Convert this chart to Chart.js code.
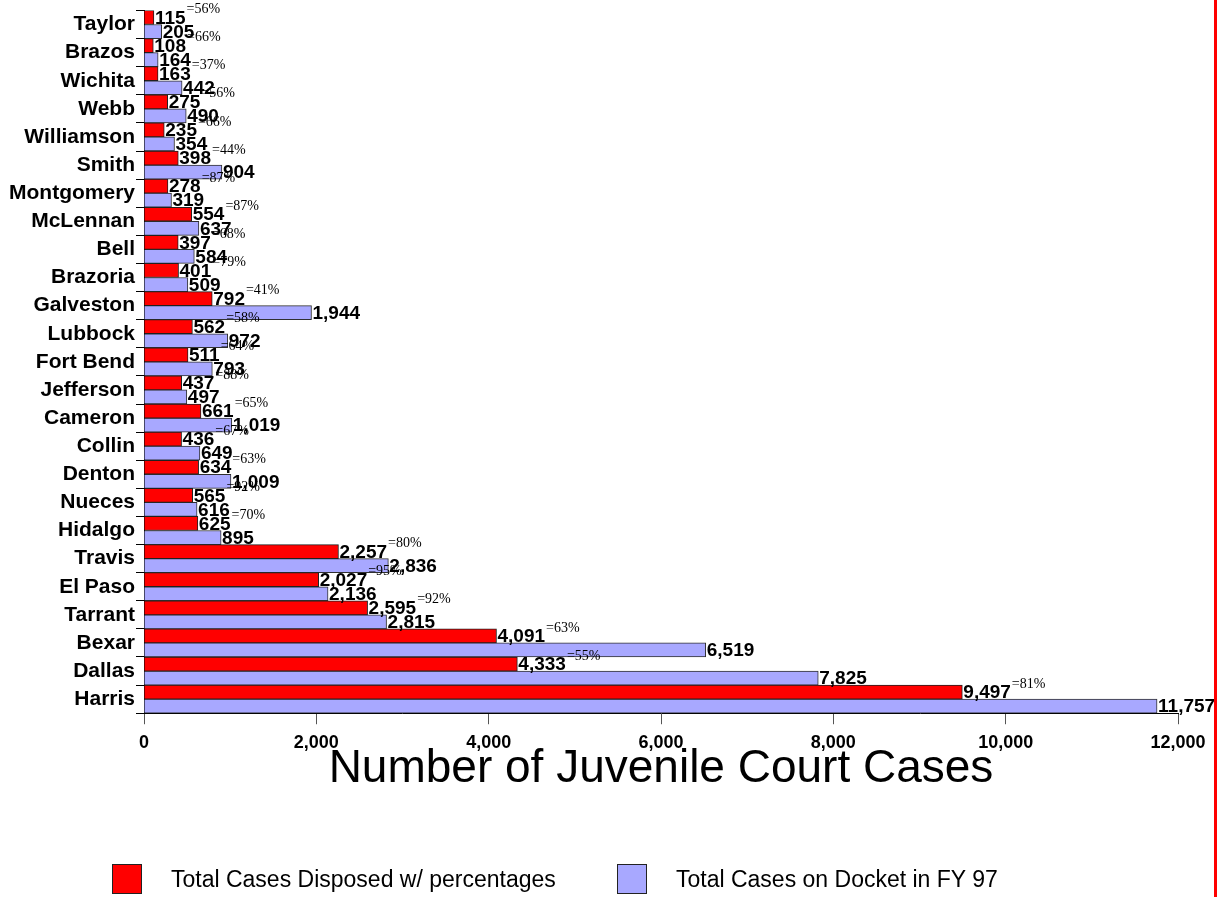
<!DOCTYPE html>
<html>
<head>
<meta charset="utf-8">
<title>Juvenile Court Cases by County</title>
<script src="https://cdn.jsdelivr.net/npm/chart.js@4/dist/chart.umd.min.js"></script>
<style>
  body { margin: 0; background: #fff; }
  #wrap { position: relative; width: 1222px; height: 897px; overflow: hidden; }
  #chart { position: absolute; left: 0; top: 0; }
  .legend-item { position: absolute; top: 864px; height: 30px; display: flex; align-items: center;
    font-family: "Liberation Sans", Arial, sans-serif; font-size: 23px; color: #000; white-space: nowrap; }
  .legend-box { width: 28px; height: 28px; border: 1px solid #222; margin-right: 29px; }
  #edge { position: absolute; left: 1214px; top: 0; width: 3px; height: 897px; background: #ff0000; }
</style>
</head>
<body>
<div id="wrap">
  <canvas id="chart" width="1222" height="897"></canvas>
  <div class="legend-item" style="left:112px"><span class="legend-box" style="background:#ff0000"></span>Total Cases Disposed w/ percentages</div>
  <div class="legend-item" style="left:617px"><span class="legend-box" style="background:#a8a8ff"></span>Total Cases on Docket in FY 97</div>
  <div id="edge"></div>
</div>
<script>
// County names, top to bottom
const counties = ['Taylor', 'Brazos', 'Wichita', 'Webb', 'Williamson', 'Smith', 'Montgomery', 'McLennan',
  'Bell', 'Brazoria', 'Galveston', 'Lubbock', 'Fort Bend', 'Jefferson', 'Cameron', 'Collin', 'Denton',
  'Nueces', 'Hidalgo', 'Travis', 'El Paso', 'Tarrant', 'Bexar', 'Dallas', 'Harris'];

// Cases disposed
const disposed = [115, 108, 163, 275, 235, 398, 278, 554, 397, 401, 792, 562, 511, 437, 661, 436, 634,
  565, 625, 2257, 2027, 2595, 4091, 4333, 9497];

// Cases on docket in FY 97
const docket = [205, 164, 442, 490, 354, 904, 319, 637, 584, 509, 1944, 972, 793, 497, 1019, 649, 1009,
  616, 895, 2836, 2136, 2815, 6519, 7825, 11757];

// Disposition percentages shown next to the red bars
const dispositionPct = [56, 66, 37, 56, 66, 44, 87, 87, 68, 79, 41, 58, 64, 88, 65, 67, 63, 92, 70, 80,
  95, 92, 63, 55, 81];

// x axis range
const xMin = 0;
const xMax = 12000;
const xStep = 2000;

const sansFont = '"Liberation Sans", Arial, sans-serif';
const serifFont = '"Liberation Serif", "Times New Roman", serif';

// draws the number at the end of each bar, plus the percentage for disposed cases
const barLabels = {
  id: 'barLabels',
  afterDatasetsDraw(chart) {
    const ctx = chart.ctx;
    ctx.save();
    ctx.fillStyle = '#000';
    ctx.textBaseline = 'middle';
    ctx.textAlign = 'left';
    chart.data.datasets.forEach((ds, di) => {
      const meta = chart.getDatasetMeta(di);
      meta.data.forEach((bar, i) => {
        const text = ds.data[i].toLocaleString('en-US');
        ctx.font = 'bold 19px ' + sansFont;
        ctx.fillText(text, bar.x + 1, bar.y + 1);
        if (di === 0) {
          const w = ctx.measureText(text).width;
          ctx.font = '14px ' + serifFont;
          ctx.fillText('=' + dispositionPct[i] + '%', bar.x + w + 2, bar.y - bar.height / 2 - 1);
        }
      });
    });
    ctx.restore();
  }
};

new Chart(document.getElementById('chart'), {
  type: 'bar',
  data: {
    labels: counties,
    datasets: [
      {
        label: 'Total Cases Disposed w/ percentages',
        data: disposed,
        backgroundColor: '#ff0000',
        borderColor: '#202020',
        borderWidth: 1
      },
      {
        label: 'Total Cases on Docket in FY 97',
        data: docket,
        backgroundColor: '#a8a8ff',
        borderColor: '#303030',
        borderWidth: 1
      }
    ]
  },
  options: {
    indexAxis: 'y',
    responsive: false,
    animation: false,
    datasets: { bar: { barPercentage: 1, categoryPercentage: 1 } },
    layout: { padding: { top: 10, right: 44, bottom: 118, left: 0 } },
    plugins: {
      legend: { display: false },
      tooltip: { enabled: false }
    },
    scales: {
      x: {
        min: xMin,
        max: xMax,
        ticks: {
          stepSize: xStep,
          padding: 8,
          color: '#000',
          font: { family: sansFont, size: 18, weight: 'bold' },
          callback: v => v.toLocaleString('en-US')
        },
        grid: { drawOnChartArea: false, tickLength: 11, color: '#555' },
        border: { color: '#000', width: 1 },
        title: {
          display: true,
          text: 'Number of Juvenile Court Cases',
          color: '#000',
          font: { family: sansFont, size: 46, lineHeight: 0.33 },
          padding: { top: 0, bottom: 2 }
        }
      },
      y: {
        afterFit(scale) { scale.width = 144; },
        ticks: {
          autoSkip: false,
          padding: 1,
          color: '#000',
          font: { family: sansFont, size: 21, weight: 'bold', lineHeight: 0.9 }
        },
        grid: { drawOnChartArea: false, tickLength: 8, color: '#000' },
        border: { color: '#000', width: 1 }
      }
    }
  },
  plugins: [barLabels]
});
</script>
</body>
</html>
